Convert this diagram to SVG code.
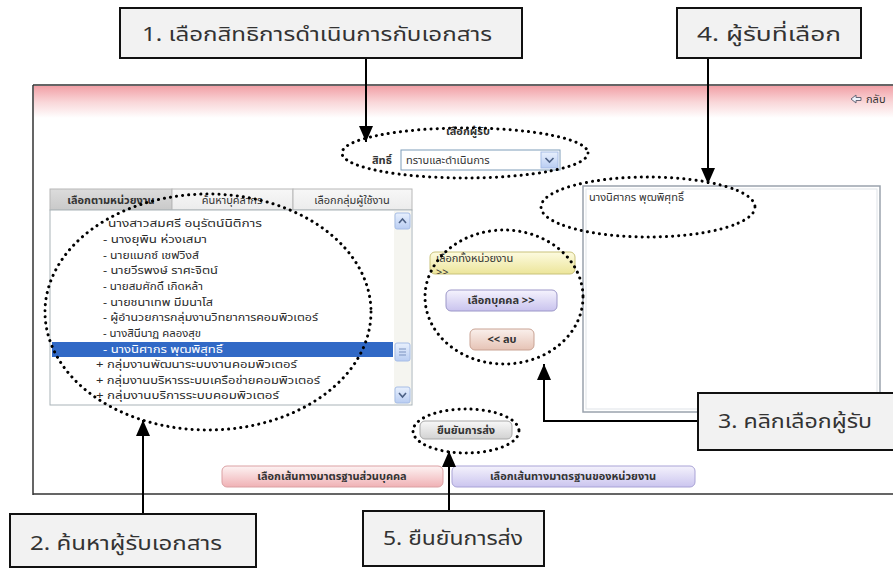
<svg xmlns="http://www.w3.org/2000/svg" width="893" height="569" viewBox="0 0 893 569">
<style>
.call{fill:#f2f2f2;stroke:#111;stroke-width:2}
.ct{font-family:"Leelawadee UI",Tahoma,"Noto Sans Thai","Noto Sans","DejaVu Sans",sans-serif;font-size:20px;fill:#333}
.ui{font-family:Tahoma,"Noto Sans Thai","Noto Sans","DejaVu Sans",sans-serif;font-size:11px;fill:#333}
.li{font-family:Tahoma,"Noto Sans Thai","Noto Sans","DejaVu Sans",sans-serif;font-size:10.5px;fill:#2a2a2a}
.b{font-weight:bold}
.dot{fill:none;stroke:#000;stroke-width:3;stroke-linecap:round;stroke-dasharray:0.1 6}
.con{fill:none;stroke:#000;stroke-width:2}
.tab{stroke:#b8b8b8;stroke-width:1}
</style>
<defs>
<marker id="ah" viewBox="0 0 16 14" refX="16" refY="7" markerWidth="16" markerHeight="14" markerUnits="userSpaceOnUse" orient="auto">
<path d="M0,0 L16,7 L0,14 z" fill="#000"/>
</marker>
<linearGradient id="hdr" x1="0" y1="0" x2="0" y2="1"><stop offset="0" stop-color="#f1a0a6"/><stop offset="0.5" stop-color="#f9d6d8"/><stop offset="1" stop-color="#fff"/></linearGradient>
<linearGradient id="gTab1" x1="0" y1="0" x2="0" y2="1"><stop offset="0" stop-color="#dcdcdc"/><stop offset="1" stop-color="#c9c9c9"/></linearGradient>
<linearGradient id="gTab" x1="0" y1="0" x2="0" y2="1"><stop offset="0" stop-color="#f7f7f7"/><stop offset="1" stop-color="#ececec"/></linearGradient>
<linearGradient id="gYel" x1="0" y1="0" x2="0" y2="1"><stop offset="0" stop-color="#fdfbe0"/><stop offset="1" stop-color="#ece59a"/></linearGradient>
<linearGradient id="gPur" x1="0" y1="0" x2="0" y2="1"><stop offset="0" stop-color="#f5f3fd"/><stop offset="1" stop-color="#c9c3ee"/></linearGradient>
<linearGradient id="gPnk" x1="0" y1="0" x2="0" y2="1"><stop offset="0" stop-color="#faf0ec"/><stop offset="1" stop-color="#e6c3b5"/></linearGradient>
<linearGradient id="gGry" x1="0" y1="0" x2="0" y2="1"><stop offset="0" stop-color="#f8f8f8"/><stop offset="1" stop-color="#d2d2d2"/></linearGradient>
<linearGradient id="gRed" x1="0" y1="0" x2="0" y2="1"><stop offset="0" stop-color="#fdf3f3"/><stop offset="1" stop-color="#f0b1b5"/></linearGradient>
<linearGradient id="gLav" x1="0" y1="0" x2="0" y2="1"><stop offset="0" stop-color="#f4f2fc"/><stop offset="1" stop-color="#cbc5ef"/></linearGradient>
<linearGradient id="gBlu" x1="0" y1="0" x2="0" y2="1"><stop offset="0" stop-color="#e8f0fd"/><stop offset="1" stop-color="#b9cdf2"/></linearGradient>
<linearGradient id="gGold" x1="0" y1="0" x2="1" y2="0"><stop offset="0" stop-color="#b89a5a" stop-opacity="0.6"/><stop offset="0.15" stop-color="#a8883f"/><stop offset="0.85" stop-color="#a8883f"/><stop offset="1" stop-color="#c8b080" stop-opacity="0.3"/></linearGradient>
<clipPath id="clipYel"><rect x="430" y="252" width="145" height="22" rx="5"/></clipPath>
</defs>

<g id="screen">
<rect x="33" y="85" width="860" height="409" fill="#fff"/>
<rect x="34" y="86" width="859" height="32" fill="url(#hdr)"/>
<path d="M33,85 H893 M33,85 V495 M33,494 H893" stroke="#333" stroke-width="1.5" fill="none"/>
<path d="M851,99 L856,95 L856,97.5 L861,97.5 L861,100.5 L856,100.5 L856,103 Z" fill="#eef3fb" stroke="#667" stroke-width="1"/>
<text class="ui" x="866" y="103" font-size="10">กลับ</text>
</g>

<g id="rights">
<text class="ui b" x="468" y="135" text-anchor="middle">เลือกผู้รับ</text>
<text class="ui b" x="372" y="164">สิทธิ์</text>
<rect x="401" y="150" width="159" height="20" fill="#fff" stroke="#7f9db9"/>
<text class="ui" x="406" y="164">ทราบและดำเนินการ</text>
<rect x="541" y="152" width="17" height="16" fill="url(#gBlu)" stroke="#a6bde6"/>
<path d="M545.5,158 L549.5,162 L553.5,158" fill="none" stroke="#4d6185" stroke-width="1.6"/>
</g>

<g id="tabs">
<rect class="tab" x="50" y="189" width="122" height="21" fill="url(#gTab1)"/>
<rect class="tab" x="172" y="189" width="121" height="21" fill="url(#gTab)"/>
<rect class="tab" x="293" y="189" width="119" height="21" fill="url(#gTab)"/>
<text class="ui b" x="111" y="204" text-anchor="middle">เลือกตามหน่วยงาน</text>
<text class="ui" x="232" y="204" text-anchor="middle">ค้นหาบุคลากร</text>
<text class="ui" x="352" y="204" text-anchor="middle">เลือกกลุ่มผู้ใช้งาน</text>
</g>

<g id="list">
<rect x="50" y="210" width="362" height="195" fill="#fff" stroke="#a9b3b8"/>
<rect x="52" y="342" width="341" height="15" fill="#3169c6"/>
<text class="li" x="108" y="227" textLength="154" lengthAdjust="spacingAndGlyphs">นางสาวสมศรี อนุรัตน์นิติการ</text>
<text class="li" x="103" y="243" textLength="104" lengthAdjust="spacingAndGlyphs">- นางยุพิน ห่วงเสมา</text>
<text class="li" x="103" y="259" textLength="96" lengthAdjust="spacingAndGlyphs">- นายแมกซ์ เชฟวิงส์</text>
<text class="li" x="103" y="274" textLength="115" lengthAdjust="spacingAndGlyphs">- นายวีรพงษ์ ราศะจิตน์</text>
<text class="li" x="103" y="290" textLength="100" lengthAdjust="spacingAndGlyphs">- นายสมศักดิ์ เกิดหล้า</text>
<text class="li" x="103" y="306" textLength="110" lengthAdjust="spacingAndGlyphs">- นายชนาเทพ มีมนาโส</text>
<text class="li" x="103" y="321" textLength="215" lengthAdjust="spacingAndGlyphs">- ผู้อำนวยการกลุ่มงานวิทยาการคอมพิวเตอร์</text>
<text class="li" x="103" y="337" textLength="98" lengthAdjust="spacingAndGlyphs">- นางสินีนาฏ คลองสุข</text>
<text class="li" x="103" y="353" textLength="120" lengthAdjust="spacingAndGlyphs" style="fill:#fff">- นางนิศากร พุฒพิสุทธิ์</text>
<text class="li" x="96" y="368" textLength="201" lengthAdjust="spacingAndGlyphs">+ กลุ่มงานพัฒนาระบบงานคอมพิวเตอร์</text>
<text class="li" x="96" y="384" textLength="224" lengthAdjust="spacingAndGlyphs">+ กลุ่มงานบริหารระบบเครือข่ายคอมพิวเตอร์</text>
<text class="li" x="96" y="399" textLength="183" lengthAdjust="spacingAndGlyphs">+ กลุ่มงานบริการระบบคอมพิวเตอร์</text>
<rect x="394" y="211" width="17" height="193" fill="#f5f5f0"/>
<rect x="395" y="213" width="15" height="16" rx="2" fill="url(#gBlu)" stroke="#a6bde6"/>
<path d="M399,223 L402.5,219 L406,223" fill="none" stroke="#4d6185" stroke-width="1.6"/>
<rect x="395" y="343" width="15" height="18" rx="2" fill="url(#gBlu)" stroke="#a6bde6"/>
<path d="M399,349 H406 M399,352 H406 M399,355 H406" stroke="#7d93c0" stroke-width="1"/>
<rect x="395" y="387" width="15" height="16" rx="2" fill="url(#gBlu)" stroke="#a6bde6"/>
<path d="M399,393 L402.5,397 L406,393" fill="none" stroke="#4d6185" stroke-width="1.6"/>
</g>

<g id="buttons">
<rect x="430" y="252" width="145" height="22" rx="5" fill="url(#gYel)" stroke="#c9c27a"/>
<g clip-path="url(#clipYel)">
<text class="ui" x="436" y="262">เลือกทั้งหน่วยงาน</text>
<text class="ui" x="436" y="276" font-size="10">&gt;&gt;</text>
</g>
<rect x="446" y="290" width="111" height="21" rx="5" fill="url(#gPur)" stroke="#9c97c8"/>
<text class="ui b" x="501" y="304" text-anchor="middle">เลือกบุคคล &gt;&gt;</text>
<rect x="470" y="329" width="64" height="21" rx="5" fill="url(#gPnk)" stroke="#c9a394"/>
<text class="ui b" x="502" y="343" text-anchor="middle">&lt;&lt; ลบ</text>
</g>

<g id="selected">
<rect x="583" y="186" width="297" height="226" fill="#fff" stroke="#9aa3ad" stroke-width="1.5"/>
<rect x="586" y="189" width="291" height="220" fill="none" stroke="#dfe3e8"/>
<text class="ui" x="589" y="201">นางนิศากร พุฒพิศุทธิ์</text>
</g>

<g id="confirm">
<rect x="420" y="421" width="92" height="18" rx="5" fill="url(#gGry)" stroke="#a8a8a8"/>
<text class="ui b" x="466" y="434" text-anchor="middle">ยืนยันการส่ง</text>
<line x1="302" y1="452" x2="627" y2="452" stroke="url(#gGold)" stroke-width="2.5"/>
<rect x="222" y="466" width="221" height="21" rx="5" fill="url(#gRed)" stroke="#dba0a3"/>
<text class="ui b" x="332" y="480" text-anchor="middle">เลือกเส้นทางมาตรฐานส่วนบุคคล</text>
<rect x="452" y="466" width="243" height="21" rx="5" fill="url(#gLav)" stroke="#a9a3d6"/>
<text class="ui b" x="573" y="480" text-anchor="middle">เลือกเส้นทางมาตรฐานของหน่วยงาน</text>
</g>

<g id="highlights">
<ellipse class="dot" cx="465" cy="153" rx="123" ry="25"/>
<ellipse class="dot" cx="208" cy="312" rx="163" ry="118"/>
<ellipse class="dot" cx="504" cy="297" rx="79" ry="67"/>
<ellipse class="dot" cx="648" cy="207" rx="107" ry="30"/>
<ellipse class="dot" cx="466" cy="431" rx="53" ry="22"/>
</g>

<g id="connectors">
<path class="con" d="M366,58 V142" marker-end="url(#ah)"/>
<path class="con" d="M708,58 V184" marker-end="url(#ah)"/>
<path class="con" d="M143,514 V420" marker-end="url(#ah)"/>
<path class="con" d="M449,511 V451" marker-end="url(#ah)"/>
<path class="con" d="M698,421 H544 V364" marker-end="url(#ah)"/>
</g>

<g id="callout1">
<rect class="call" x="120" y="8" width="402" height="50"/>
<text class="ct" x="142" y="41" textLength="350" lengthAdjust="spacingAndGlyphs">1. เลือกสิทธิการดำเนินการกับเอกสาร</text>
</g>
<g id="callout4">
<rect class="call" x="677" y="8" width="184" height="50"/>
<text class="ct" x="697" y="41" textLength="144" lengthAdjust="spacingAndGlyphs">4. ผู้รับที่เลือก</text>
</g>
<g id="callout3">
<rect class="call" x="698" y="393" width="200" height="57"/>
<text class="ct" x="718" y="428" textLength="154" lengthAdjust="spacingAndGlyphs">3. คลิกเลือกผู้รับ</text>
</g>
<g id="callout2">
<rect class="call" x="10" y="514" width="246" height="53"/>
<text class="ct" x="30" y="550" textLength="192" lengthAdjust="spacingAndGlyphs">2. ค้นหาผู้รับเอกสาร</text>
</g>
<g id="callout5">
<rect class="call" x="363" y="511" width="181" height="55"/>
<text class="ct" x="383" y="545" textLength="140" lengthAdjust="spacingAndGlyphs">5. ยืนยันการส่ง</text>
</g>
</svg>
